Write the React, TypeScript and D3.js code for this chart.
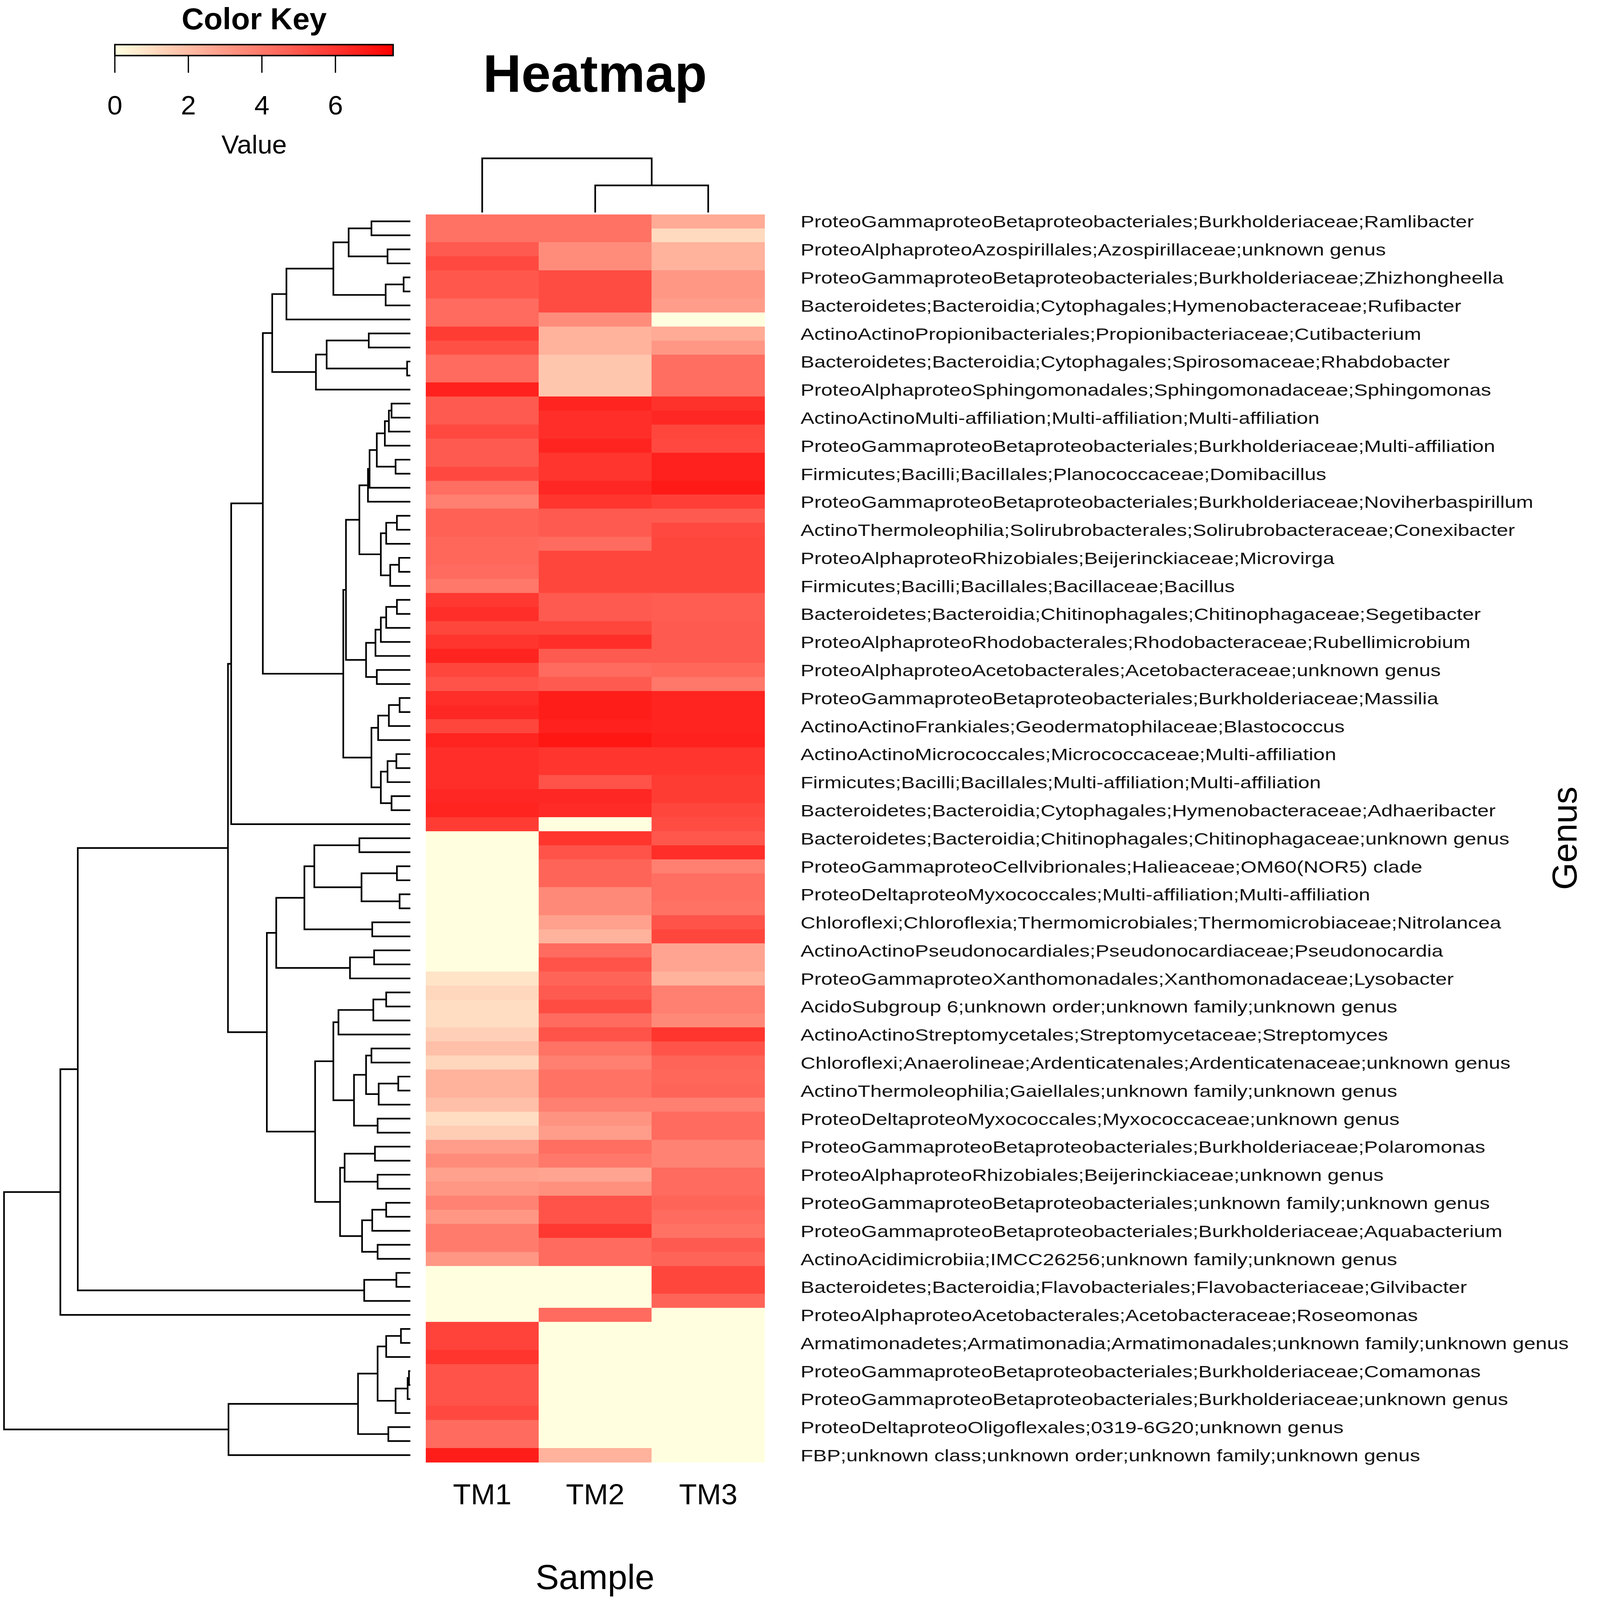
import { useEffect, useRef } from 'react';
import * as d3 from 'd3';

const samples = ['TM1', 'TM2', 'TM3'];

// values per sample, rows top to bottom (89 genera)
const valuesTM1 = [
  4.2, 4.2, 4.9, 5.4, 5.0, 5.0, 4.4, 4.4, 5.8, 5.2,
  4.4, 4.4, 6.6, 4.9, 4.9, 5.4, 4.9, 4.9, 5.4, 4.3,
  3.8, 4.7, 4.7, 4.5, 4.5, 4.4, 4.0, 5.9, 6.2, 5.5,
  6.0, 6.5, 5.5, 5.1, 6.2, 6.4, 5.5, 6.5, 6.2, 6.2,
  6.2, 6.4, 6.5, 5.8, 0, 0, 0, 0, 0, 0,
  0, 0, 0, 0, 0.8, 1.2, 1.0, 1.0, 1.4, 1.9,
  1.2, 2.3, 2.3, 1.9, 1.0, 1.5, 2.9, 3.4, 2.8, 3.1,
  3.7, 3.1, 3.9, 3.9, 3.1, 0, 0, 0, 0, 5.6,
  5.6, 6.0, 5.1, 5.1, 5.1, 5.4, 4.4, 4.4, 6.7,
];
const valuesTM2 = [
  4.2, 4.2, 3.4, 3.4, 5.3, 5.3, 5.3, 3.4, 2.3, 2.3,
  1.7, 1.7, 1.7, 6.5, 6.2, 6.2, 6.5, 6.0, 6.0, 6.4,
  6.0, 4.9, 4.9, 4.4, 5.5, 5.5, 5.5, 4.9, 4.9, 5.5,
  6.2, 4.9, 4.4, 4.9, 6.7, 6.7, 6.6, 6.9, 6.0, 6.0,
  5.1, 6.4, 6.3, 0, 6.0, 5.1, 4.6, 4.6, 3.5, 3.5,
  2.8, 2.3, 4.4, 5.1, 4.6, 4.9, 5.3, 4.4, 5.1, 4.2,
  3.8, 4.2, 4.2, 3.8, 3.2, 2.9, 4.3, 4.0, 2.7, 3.3,
  5.1, 5.1, 5.9, 4.4, 4.4, 0, 0, 0, 4.4, 0,
  0, 0, 0, 0, 0, 0, 0, 0, 2.3,
];
const valuesTM3 = [
  2.5, 1.1, 2.3, 2.3, 3.1, 3.1, 2.9, 0, 2.5, 3.1,
  4.3, 4.3, 4.3, 6.1, 6.4, 5.5, 5.4, 6.6, 6.6, 6.8,
  5.7, 4.9, 5.4, 5.5, 5.5, 5.5, 5.5, 4.8, 4.8, 4.9,
  4.9, 4.9, 4.5, 4.0, 6.5, 6.5, 6.5, 6.6, 6.0, 6.0,
  5.8, 5.8, 5.5, 5.3, 5.0, 6.2, 3.8, 4.3, 4.3, 4.2,
  5.1, 5.5, 2.7, 2.7, 2.3, 3.8, 3.8, 3.5, 6.0, 5.1,
  4.6, 4.5, 4.6, 3.8, 4.4, 4.4, 3.7, 3.7, 4.4, 4.4,
  4.6, 4.4, 4.2, 4.9, 4.6, 5.5, 5.5, 4.6, 0, 0,
  0, 0, 0, 0, 0, 0, 0, 0, 0,
];

// only every second row carries a label (rows 0, 2, 4, ...)
const rowLabels = [
  'ProteoGammaproteoBetaproteobacteriales;Burkholderiaceae;Ramlibacter',
  'ProteoAlphaproteoAzospirillales;Azospirillaceae;unknown genus',
  'ProteoGammaproteoBetaproteobacteriales;Burkholderiaceae;Zhizhongheella',
  'Bacteroidetes;Bacteroidia;Cytophagales;Hymenobacteraceae;Rufibacter',
  'ActinoActinoPropionibacteriales;Propionibacteriaceae;Cutibacterium',
  'Bacteroidetes;Bacteroidia;Cytophagales;Spirosomaceae;Rhabdobacter',
  'ProteoAlphaproteoSphingomonadales;Sphingomonadaceae;Sphingomonas',
  'ActinoActinoMulti-affiliation;Multi-affiliation;Multi-affiliation',
  'ProteoGammaproteoBetaproteobacteriales;Burkholderiaceae;Multi-affiliation',
  'Firmicutes;Bacilli;Bacillales;Planococcaceae;Domibacillus',
  'ProteoGammaproteoBetaproteobacteriales;Burkholderiaceae;Noviherbaspirillum',
  'ActinoThermoleophilia;Solirubrobacterales;Solirubrobacteraceae;Conexibacter',
  'ProteoAlphaproteoRhizobiales;Beijerinckiaceae;Microvirga',
  'Firmicutes;Bacilli;Bacillales;Bacillaceae;Bacillus',
  'Bacteroidetes;Bacteroidia;Chitinophagales;Chitinophagaceae;Segetibacter',
  'ProteoAlphaproteoRhodobacterales;Rhodobacteraceae;Rubellimicrobium',
  'ProteoAlphaproteoAcetobacterales;Acetobacteraceae;unknown genus',
  'ProteoGammaproteoBetaproteobacteriales;Burkholderiaceae;Massilia',
  'ActinoActinoFrankiales;Geodermatophilaceae;Blastococcus',
  'ActinoActinoMicrococcales;Micrococcaceae;Multi-affiliation',
  'Firmicutes;Bacilli;Bacillales;Multi-affiliation;Multi-affiliation',
  'Bacteroidetes;Bacteroidia;Cytophagales;Hymenobacteraceae;Adhaeribacter',
  'Bacteroidetes;Bacteroidia;Chitinophagales;Chitinophagaceae;unknown genus',
  'ProteoGammaproteoCellvibrionales;Halieaceae;OM60(NOR5) clade',
  'ProteoDeltaproteoMyxococcales;Multi-affiliation;Multi-affiliation',
  'Chloroflexi;Chloroflexia;Thermomicrobiales;Thermomicrobiaceae;Nitrolancea',
  'ActinoActinoPseudonocardiales;Pseudonocardiaceae;Pseudonocardia',
  'ProteoGammaproteoXanthomonadales;Xanthomonadaceae;Lysobacter',
  'AcidoSubgroup 6;unknown order;unknown family;unknown genus',
  'ActinoActinoStreptomycetales;Streptomycetaceae;Streptomyces',
  'Chloroflexi;Anaerolineae;Ardenticatenales;Ardenticatenaceae;unknown genus',
  'ActinoThermoleophilia;Gaiellales;unknown family;unknown genus',
  'ProteoDeltaproteoMyxococcales;Myxococcaceae;unknown genus',
  'ProteoGammaproteoBetaproteobacteriales;Burkholderiaceae;Polaromonas',
  'ProteoAlphaproteoRhizobiales;Beijerinckiaceae;unknown genus',
  'ProteoGammaproteoBetaproteobacteriales;unknown family;unknown genus',
  'ProteoGammaproteoBetaproteobacteriales;Burkholderiaceae;Aquabacterium',
  'ActinoAcidimicrobiia;IMCC26256;unknown family;unknown genus',
  'Bacteroidetes;Bacteroidia;Flavobacteriales;Flavobacteriaceae;Gilvibacter',
  'ProteoAlphaproteoAcetobacterales;Acetobacteraceae;Roseomonas',
  'Armatimonadetes;Armatimonadia;Armatimonadales;unknown family;unknown genus',
  'ProteoGammaproteoBetaproteobacteriales;Burkholderiaceae;Comamonas',
  'ProteoGammaproteoBetaproteobacteriales;Burkholderiaceae;unknown genus',
  'ProteoDeltaproteoOligoflexales;0319-6G20;unknown genus',
  'FBP;unknown class;unknown order;unknown family;unknown genus',
];

// row clustering, hclust style: -k = row k-1, +i = merge i (1-based)
const rowMerge: [number, number][] = [
  [-1, -2], [-3, -4], [1, 2], [-5, -6], [4, -7], [3, 5], [6, -8], [-9, -10], [-11, -12], [8, 9],
  [10, -13], [7, 11], [-14, -15], [13, -16], [14, -17], [-18, -19], [15, 16], [17, -20], [18, -21], [-22, -23],
  [20, -24], [-25, -26], [22, -27], [21, 23], [19, 24], [-28, -29], [26, -30], [27, -31], [28, -32], [-33, -34],
  [29, 30], [25, 31], [-35, -36], [33, -37], [34, -38], [-39, -40], [36, -41], [-42, -43], [37, 38], [35, 39],
  [32, 40], [12, 41], [42, -44], [-45, -46], [-47, -48], [-49, -50], [45, 46], [44, 47], [-51, -52], [48, 49],
  [-53, -54], [51, -55], [50, 52], [-56, -57], [54, -58], [55, -59], [-60, -61], [-62, -63], [58, -64], [57, 59],
  [-65, -66], [60, 61], [56, 62], [-67, -68], [-69, -70], [64, 65], [-71, -72], [67, -73], [-74, -75], [68, 69],
  [66, 70], [63, 71], [53, 72], [43, 73], [-76, -77], [75, -78], [74, 76], [77, -79], [-80, -81], [79, -82],
  [-83, -84], [81, -85], [82, -86], [80, 83], [-87, -88], [84, 85], [86, -89], [78, 87],
];
const rowHeight = [
  1.45, 0.85, 2.30, 0.25, 0.92, 2.87, 4.62, 1.55, 0.12, 3.12,
  3.52, 5.15, 0.70, 0.80, 0.95, 0.55, 1.25, 1.52, 1.58, 0.50,
  0.90, 0.42, 0.75, 1.10, 1.90, 0.50, 0.90, 1.10, 1.30, 1.25,
  1.65, 2.40, 0.40, 0.80, 1.20, 0.52, 0.85, 0.70, 1.10, 1.45,
  2.50, 5.50, 6.68, 1.90, 0.50, 0.40, 1.82, 3.58, 1.42, 3.95,
  1.35, 2.25, 5.00, 0.90, 1.38, 2.68, 1.45, 0.45, 1.18, 1.65,
  1.22, 2.10, 2.87, 1.32, 1.22, 2.45, 0.90, 1.42, 1.22, 1.80,
  2.62, 3.55, 5.35, 6.80, 0.52, 1.72, 12.40, 13.05, 0.35, 0.90,
  0.05, 0.10, 0.55, 1.22, 0.82, 1.95, 6.78, 15.15,
];

// column clustering
const colMerge: [number, number][] = [[-2, -3], [-1, 1]];
const colHeight = [0.75, 1.5];

const keyTicks = [0, 2, 4, 6];
const keyMax = 7.57;

const W = 4328;
const H = 4375;
const FONT = '"Liberation Sans", Arial, Helvetica, sans-serif';

export default function App() {
  const svgRef = useRef<SVGSVGElement>(null);

  useEffect(() => {
    if (!svgRef.current) return;
    const svg = d3.select(svgRef.current);
    svg.selectAll('*').remove();

    const values = [valuesTM1, valuesTM2, valuesTM3];
    const rows = d3.range(valuesTM1.length);

    const x = d3.scaleBand<string>().domain(samples).range([1164, 2091]);
    const y = d3.scaleBand<number>().domain(rows).range([586, 3998]);
    const color = d3.scaleLinear<string>()
      .domain([0, keyMax])
      .range(['#FFFFE0', '#FF0000'])
      .interpolate(d3.interpolateRgb);

    svg.append('rect').attr('width', W).attr('height', H).attr('fill', '#fff');

    // cells
    const cells = svg.append('g').attr('shape-rendering', 'crispEdges');
    samples.forEach((s, j) => {
      cells.selectAll(null)
        .data(rows)
        .enter()
        .append('rect')
        .attr('x', x(s)!)
        .attr('y', r => y(r)!)
        .attr('width', x.bandwidth() + 0.6)
        .attr('height', y.bandwidth() + 0.6)
        .attr('fill', r => color(values[j][r]));
    });

    // row dendrogram
    const xD = d3.scaleLinear().domain([0, d3.max(rowHeight)!]).range([1122, 11]);
    const rowPos: number[] = [];
    const rowNode = (c: number) => c < 0
      ? { p: y(-c - 1)! + y.bandwidth() / 2, h: 0 }
      : { p: rowPos[c - 1], h: rowHeight[c - 1] };
    let dRow = '';
    rowMerge.forEach(([a, b], i) => {
      const A = rowNode(a);
      const B = rowNode(b);
      rowPos.push((A.p + B.p) / 2);
      const xp = xD(rowHeight[i]);
      dRow += `M${xD(A.h)},${A.p}H${xp}V${B.p}H${xD(B.h)}`;
    });
    svg.append('path')
      .attr('d', dRow)
      .attr('fill', 'none')
      .attr('stroke', '#000')
      .attr('stroke-width', 4.5);

    // column dendrogram
    const yD = d3.scaleLinear().domain([0, d3.max(colHeight)!]).range([581, 433]);
    const colPos: number[] = [];
    const colNode = (c: number) => c < 0
      ? { p: x(samples[-c - 1])! + x.bandwidth() / 2, h: 0 }
      : { p: colPos[c - 1], h: colHeight[c - 1] };
    let dCol = '';
    colMerge.forEach(([a, b], i) => {
      const A = colNode(a);
      const B = colNode(b);
      colPos.push((A.p + B.p) / 2);
      const yp = yD(colHeight[i]);
      dCol += `M${A.p},${yD(A.h)}V${yp}H${B.p}V${yD(B.h)}`;
    });
    svg.append('path')
      .attr('d', dCol)
      .attr('fill', 'none')
      .attr('stroke', '#000')
      .attr('stroke-width', 4.5);

    // row labels
    svg.append('g')
      .selectAll('text')
      .data(rowLabels)
      .enter()
      .append('text')
      .attr('transform', (_, i) => `translate(2189,${y(i * 2)! + y.bandwidth() / 2 + 17}) scale(1.25,1)`)
      .attr('font-size', 45)
      .attr('fill', '#111')
      .text(d => d);

    // column labels
    svg.append('g')
      .selectAll('text')
      .data(samples)
      .enter()
      .append('text')
      .attr('x', d => x(d)! + x.bandwidth() / 2)
      .attr('y', 4113)
      .attr('text-anchor', 'middle')
      .attr('font-size', 80)
      .text(d => d);

    svg.append('text')
      .attr('x', 1627)
      .attr('y', 4345)
      .attr('text-anchor', 'middle')
      .attr('font-size', 96)
      .text('Sample');

    svg.append('text')
      .attr('transform', 'translate(4311,2292) rotate(-90)')
      .attr('text-anchor', 'middle')
      .attr('font-size', 96)
      .text('Genus');

    svg.append('text')
      .attr('x', 1627)
      .attr('y', 251)
      .attr('text-anchor', 'middle')
      .attr('font-size', 145)
      .attr('font-weight', 'bold')
      .text('Heatmap');

    // colour key
    const keyX = d3.scaleLinear().domain([0, keyMax]).range([314, 1075]);
    const grad = svg.append('defs')
      .append('linearGradient')
      .attr('id', 'keyGrad')
      .attr('x1', '0%').attr('x2', '100%').attr('y1', '0%').attr('y2', '0%');
    d3.range(0, 11).forEach(k => {
      grad.append('stop')
        .attr('offset', `${k * 10}%`)
        .attr('stop-color', color((keyMax * k) / 10));
    });

    const key = svg.append('g');
    key.append('text')
      .attr('x', 695)
      .attr('y', 80)
      .attr('text-anchor', 'middle')
      .attr('font-size', 84)
      .attr('font-weight', 'bold')
      .text('Color Key');

    key.append('rect')
      .attr('x', keyX(0))
      .attr('y', 122)
      .attr('width', keyX(keyMax) - keyX(0))
      .attr('height', 30)
      .attr('fill', 'url(#keyGrad)')
      .attr('stroke', '#000')
      .attr('stroke-width', 4);

    key.selectAll('line.tick')
      .data(keyTicks)
      .enter()
      .append('line')
      .attr('x1', d => keyX(d))
      .attr('x2', d => keyX(d))
      .attr('y1', 152)
      .attr('y2', 199)
      .attr('stroke', '#000')
      .attr('stroke-width', 3.5);

    key.selectAll('text.tickLabel')
      .data(keyTicks)
      .enter()
      .append('text')
      .attr('x', d => keyX(d))
      .attr('y', 313)
      .attr('text-anchor', 'middle')
      .attr('font-size', 74)
      .text(d => d);

    key.append('text')
      .attr('x', 695)
      .attr('y', 420)
      .attr('text-anchor', 'middle')
      .attr('font-size', 72)
      .text('Value');
  }, []);

  return (
    <svg
      ref={svgRef}
      viewBox={`0 0 ${W} ${H}`}
      preserveAspectRatio="xMinYMin meet"
      fontFamily={FONT}
      style={{ position: 'fixed', left: 0, top: 0, width: '100vw', height: '100vh', display: 'block' }}
    />
  );
}
